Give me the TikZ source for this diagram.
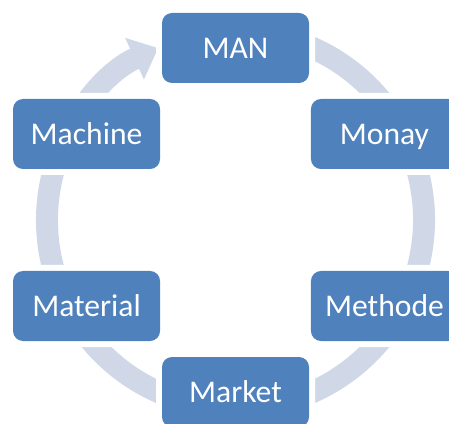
\documentclass[tikz,border=0pt]{standalone}
\usepackage{fontspec}
\setmainfont{Carlito}
\usepackage{tikz}
\usetikzlibrary{arrows.meta}
\definecolor{cBlock}{HTML}{4F81BD}
\definecolor{cRing} {HTML}{D0D8E8}
\tikzset{
  mbox/.style={rectangle,rounded corners=10pt,fill=cBlock,text=white,
               minimum width=147pt,minimum height=70pt,inner sep=0pt,
               text height=20.3pt,text depth=0pt,
               font=\fontsize{31.6}{38}\selectfont,
               preaction={draw=white,line width=12pt}},
  ring/.style={cRing,line width=22pt,-{Triangle[width=44pt,length=26pt]}},
}

\begin{document}
\begin{tikzpicture}[x=1pt,y=1pt]
    \useasboundingbox (0,0) rectangle (449,423);
    \clip (0,0) rectangle (449,423);
    \coordinate (hub) at (235.5,203);
    % cycle ring behind the blocks
    \draw[ring] ([shift={(80:188.5)}]hub) arc[start angle=80,end angle=-245.8,radius=188.5];
    \node[mbox] (man) at ([shift={(90:172)}]hub) {MAN};
    \node[mbox] (mon) at ([shift={(30:172)}]hub) {Monay};
    \node[mbox] (met) at ([shift={(-30:172)}]hub) {Methode};
    \node[mbox] (mar) at ([shift={(-90:172)}]hub) {Market};
    \node[mbox] (mat) at ([shift={(-150:172)}]hub) {Material};
    \node[mbox] (mac) at ([shift={(150:172)}]hub) {Machine};
  \end{tikzpicture}
\end{document}
